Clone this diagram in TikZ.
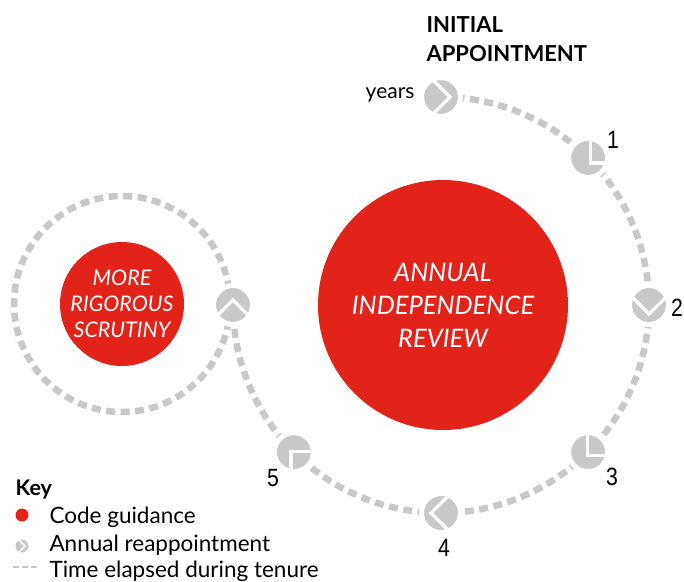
\documentclass[tikz,border=0pt]{standalone}
\usepackage{fontspec}
\setmainfont{Lato}
\newfontfamily\numfont{Liberation Sans}[FakeStretch=0.85]
\usetikzlibrary{calc,backgrounds}

\definecolor{fcred}{HTML}{E2231A}
\definecolor{tenuregrey}{HTML}{C8C8C8}

\tikzset{
  guidance/.style = {shape=circle, fill=fcred, text=white, align=center, inner sep=0pt,
                     font=\itshape},
  tenure/.style = {draw=tenuregrey, line width=6.5pt, dash pattern=on 9pt off 5.5pt},
  chevron/.style = {draw=white, line width=3.2pt},
  % grey disc with a white chevron: #1 = offset of the tip, #2 = direction of the tip
  yearmark/.style 2 args = {shape=circle, fill=tenuregrey, draw=white, line width=5pt,
                     minimum size=39pt, inner sep=0pt,
                     path picture={\draw[chevron] ($(path picture bounding box.center)+(#1)$)
                        ++(#2+135:30) -- ++(#2-45:30) -- ++(#2-135:30);}},
  yearno/.style = {font=\numfont\fontsize{25}{25}\selectfont},
  keytext/.style = {anchor=base west, font=\fontsize{22.5}{23}\selectfont},
}

\begin{document}
\begin{tikzpicture}[x=1pt,y=1pt]
\useasboundingbox (0,0) rectangle (684,-581);

% code guidance
\node[guidance, minimum size=250, font=\itshape\fontsize{25.5}{33}\selectfont] (review) at (443,-305)
  {ANNUAL\\INDEPENDENCE\\REVIEW};
\node[guidance, minimum size=124, font=\itshape\fontsize{21.5}{26}\selectfont] (scrutiny) at (122,-304)
  {MORE\\RIGOROUS\\SCRUTINY};

% reappointments, one per year
\node[yearmark={9,0}{0}] (m0) at (441,-97) {};
\node[yearmark={2,-5}{225}] (m1) at (588.1,-157.9) {};
\node[yearmark={0,-9}{-90}] (m2) at (649,-305) {};
\node[yearmark={-1,-3}{225}] (m3) at (588.1,-452.1) {};
\node[yearmark={-10,0}{180}] (m4) at (441,-513) {};
\node[yearmark={-3,1}{135}] (m5) at (293.9,-452.1) {};
\node[yearmark={0,5}{90}] (m6) at (233,-305) {};

% time elapsed
\begin{scope}[on background layer]
\draw[tenure] (m0.center) arc[start angle=90, end angle=45, radius=208];
\draw[tenure] (m1.center) arc[start angle=45, end angle=0, radius=208];
\draw[tenure] (m2.center) arc[start angle=0, end angle=-45, radius=208];
\draw[tenure] (m3.center) arc[start angle=-45, end angle=-90, radius=208];
\draw[tenure] (m4.center) arc[start angle=-90, end angle=-135, radius=208];
\draw[tenure] (m5.center) arc[start angle=-135, end angle=-180, radius=208];
\draw[tenure] (scrutiny.center) circle (108);
\end{scope}

% labels
\node[anchor=base west, font=\bfseries\fontsize{22}{22}\selectfont] (init) at (423,-32) {INITIAL};
\node[anchor=base west, font=\bfseries\fontsize{22}{22}\selectfont] (appt) at (423,-61) {APPOINTMENT};
\node[anchor=base east, font=\fontsize{21}{21}\selectfont] (yrs) at (418,-98) {years};
\node[yearno] (n1) at (613,-140) {1};
\node[yearno] (n2) at (677,-308) {2};
\node[yearno] (n3) at (612,-477) {3};
\node[yearno] (n4) at (444,-548) {4};
\node[yearno] (n5) at (273,-478) {5};

% key
\node[anchor=base west, font=\bfseries\fontsize{21.5}{22}\selectfont] (key) at (12,-495) {Key};
\node[shape=circle, fill=fcred, minimum size=13, inner sep=0pt] (keydot) at (22,-515) {};
\node[keytext] (k1) at (46,-523) {Code guidance};
\node[shape=circle, fill=tenuregrey, minimum size=13, inner sep=0pt,
      path picture={\draw[draw=white, line width=1.5pt] ($(path picture bounding box.center)+(3,0)$)
         ++(135:12) -- ++(-45:12) -- ++(-135:12);}] (keymark) at (22,-546) {};
\node[keytext] (k2) at (46,-551) {Annual reappointment};
\coordinate (d0) at (13,-567);
\coordinate (d1) at (40,-567);
\draw[draw=tenuregrey, line width=2.5pt, dash pattern=on 6pt off 3pt] (d0) -- (d1);
\node[keytext] (k3) at (46,-577) {Time elapsed during tenure};
\end{tikzpicture}
\end{document}
